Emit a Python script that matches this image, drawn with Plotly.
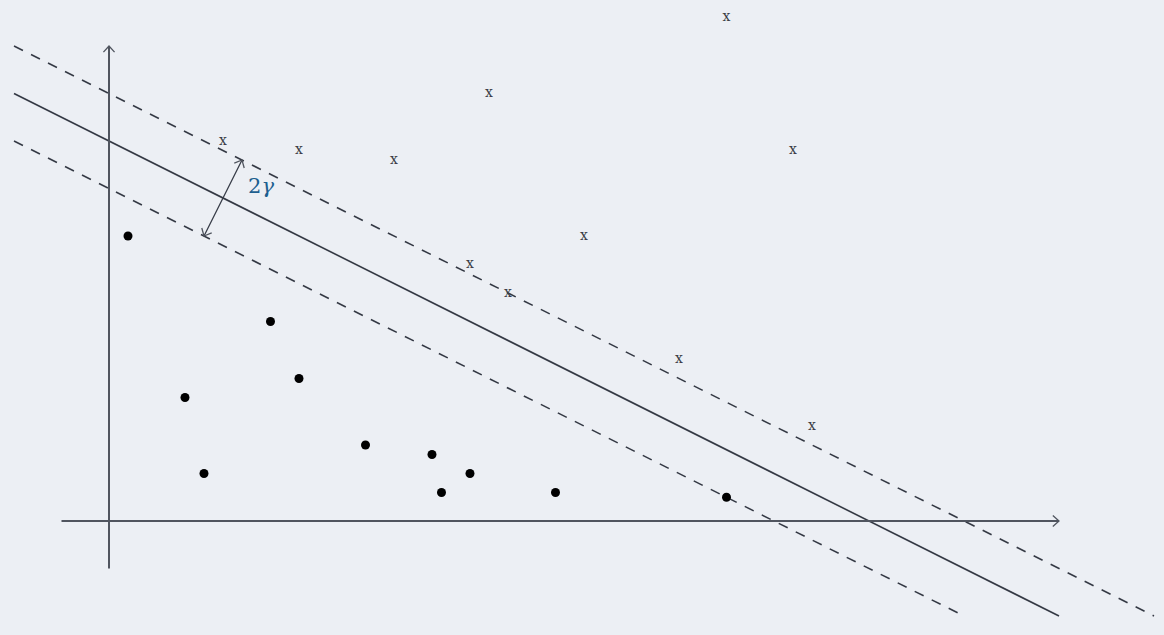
import plotly.graph_objects as go

# data in axis units (origin at the axis crossing)
dot_x = [0.2, 1.7, 0.8, 2.0, 1.0, 2.7, 3.4, 3.8, 3.5, 4.7, 6.5]
dot_y = [3.0, 2.1, 1.3, 1.5, 0.5, 0.8, 0.7, 0.5, 0.3, 0.3, 0.25]

cross_x = [6.5, 4.0, 1.2, 2.0, 3.0, 7.2, 5.0, 3.8, 4.2, 6.0, 7.4]
cross_y = [5.3, 4.5, 4.0, 3.9, 3.8, 3.9, 3.0, 2.7, 2.4, 1.7, 1.0]

slope = -0.5
intercepts = [4.5, 4.0, 3.5]          # upper margin, hyperplane, lower margin
line_dash = ["10px,9px", "solid", "10px,9px"]
line_start = -1.0
line_stop_y = -1.0

x_axis = [-0.5, 10.0]
y_axis = [-0.5, 5.0]

margin_from = (1.0, 3.0)              # point on the lower margin
gamma_label = "2<i>γ</i>"

AX_COL = "#50555f"
LN_COL = "#353a45"


def chevron(tip, d, size=0.065):
    # open arrow head at tip, pointing along d
    n = (d[0] ** 2 + d[1] ** 2) ** 0.5
    ux, uy = d[0] / n, d[1] / n
    px, py = -uy, ux
    bx, by = tip[0] - ux * size, tip[1] - uy * size
    a = (bx + px * size * 0.9, by + py * size * 0.9)
    b = (bx - px * size * 0.9, by - py * size * 0.9)
    return dict(type="path", xref="x", yref="y",
                path=f"M{a[0]},{a[1]} L{tip[0]},{tip[1]} L{b[0]},{b[1]}",
                line=dict(color=AX_COL, width=1.3))


fig = go.Figure()

# hyperplane and margins
for c, dash in zip(intercepts, line_dash):
    x_end = (line_stop_y - c) / slope
    fig.add_trace(go.Scatter(x=[line_start, x_end],
                             y=[c + slope * line_start, line_stop_y],
                             mode="lines", line=dict(color=LN_COL, width=1.6, dash=dash),
                             hoverinfo="skip", showlegend=False))

fig.add_trace(go.Scatter(x=dot_x, y=dot_y, mode="markers",
                         marker=dict(color="black", size=9), showlegend=False))
fig.add_trace(go.Scatter(x=cross_x, y=cross_y, mode="text", text=["x"] * len(cross_x),
                         textfont=dict(family="DejaVu Serif", size=14, color="#3a3d45"),
                         textposition="middle center", showlegend=False))

shapes = []
# axes
shapes.append(dict(type="line", xref="x", yref="y", x0=x_axis[0], y0=0, x1=x_axis[1], y1=0,
                   line=dict(color=AX_COL, width=2)))
shapes.append(dict(type="line", xref="x", yref="y", x0=0, y0=y_axis[0], x1=0, y1=y_axis[1],
                   line=dict(color=AX_COL, width=2)))
shapes.append(chevron((x_axis[1], 0), (1, 0)))
shapes.append(chevron((0, y_axis[1]), (0, 1)))

# margin width arrow, perpendicular to the lines
nx, ny = -slope, 1.0
t = (intercepts[0] - intercepts[2]) / (ny - slope * nx)
tip = (margin_from[0] + nx * t, margin_from[1] + ny * t)
shapes.append(dict(type="line", xref="x", yref="y", x0=margin_from[0], y0=margin_from[1],
                   x1=tip[0], y1=tip[1], line=dict(color=LN_COL, width=1.3)))
shapes.append(chevron(tip, (nx, ny)))
shapes.append(chevron(margin_from, (-nx, -ny)))

fig.add_annotation(x=(margin_from[0] + tip[0]) / 2 + 0.4, y=(margin_from[1] + tip[1]) / 2 + 0.13,
                   text=gamma_label, showarrow=False,
                   font=dict(family="DejaVu Serif", size=21, color="#1d5f8f"))

fig.update_layout(
    width=1164, height=635, autosize=False,
    margin=dict(l=0, r=0, t=0, b=0),
    paper_bgcolor="#eceff4", plot_bgcolor="#eceff4",
    shapes=shapes,
    xaxis=dict(range=[-109 / 95, 1055 / 95], visible=False, fixedrange=True),
    yaxis=dict(range=[-114 / 95, 521 / 95], visible=False, fixedrange=True),
)

fig.write_html("out.html", config={"displayModeBar": False},
               post_script="document.body.style.margin='0';document.body.style.overflow='hidden';")
